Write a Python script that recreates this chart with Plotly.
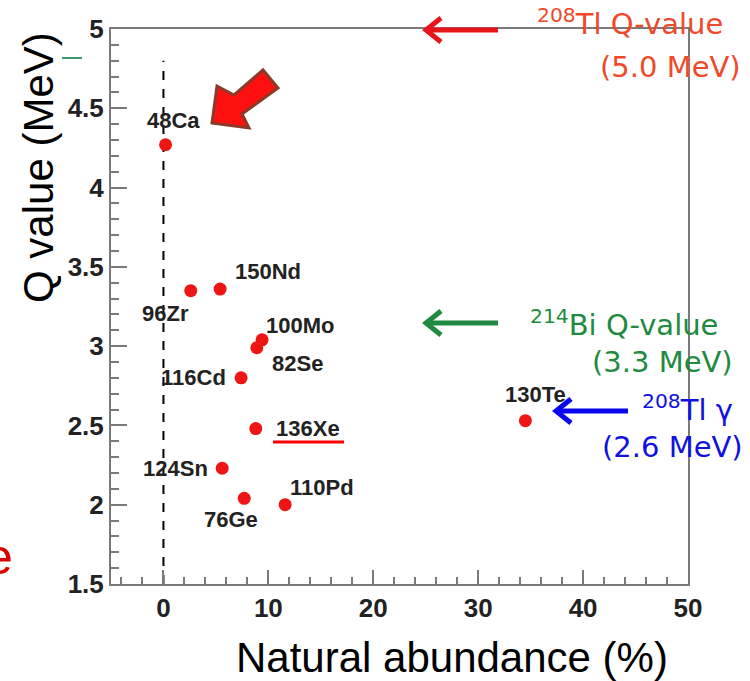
import plotly.graph_objects as go

# Double-beta-decay candidate isotopes: natural abundance (%) vs Q value (MeV)
isotopes = ["48Ca", "96Zr", "150Nd", "100Mo", "82Se", "116Cd",
            "136Xe", "124Sn", "76Ge", "110Pd", "130Te"]
abundance = [0.2, 2.6, 5.4, 9.4, 8.9, 7.4, 8.8, 5.6, 7.7, 11.6, 34.5]
q_value = [4.27, 3.35, 3.36, 3.04, 2.99, 2.80, 2.48, 2.23, 2.04, 2.00, 2.53]

x_ticks = [0, 10, 20, 30, 40, 50]
y_ticks = [1.5, 2, 2.5, 3, 3.5, 4, 4.5, 5]

# label offsets from each point, in pixels (right / down)
label_offset = {
    "48Ca": (8, -24), "96Zr": (-25, 23), "150Nd": (48, -18),
    "100Mo": (38, -14), "82Se": (41, 16), "116Cd": (-48, 0),
    "136Xe": (52, 0), "124Sn": (-47, 0), "110Pd": (37, -17),
    "76Ge": (-13, 21), "130Te": (10, -26),
}

W, H = 750, 681
L, R, T, B = 111, 62, 29, 97
PW, PH = W - L - R, H - T - B


def px(x):
    return (x - L) / PW


def py(y):
    return (H - B - y) / PH


AX_GREY = "#7a7a7a"
LABEL_FONT = dict(family="Liberation Sans, Arial", size=22, color="#222222", weight="bold")
TICK_FONT = dict(family="Liberation Sans, Arial", size=26, color="#222222", weight="bold")
TITLE_FONT = dict(family="Liberation Sans, Arial", size=42, color="#000000")
NOTE_FAMILY = "DejaVu Sans, sans-serif"

fig = go.Figure()

# vertical dashed reference at zero abundance
fig.add_shape(type="line", xref="x", yref="y", x0=0, x1=0, y0=1.5, y1=4.8,
              line=dict(color="black", width=2, dash="dash"), layer="below")

fig.add_trace(go.Scatter(
    x=abundance, y=q_value, mode="markers",
    marker=dict(color="#ee1515", size=13, line=dict(width=0)),
    hoverinfo="skip", showlegend=False,
))

annotations = []
for name, xa, yq in zip(isotopes, abundance, q_value):
    dx, dy = label_offset[name]
    annotations.append(dict(
        x=xa, y=yq, xref="x", yref="y", text=name, showarrow=False,
        xanchor="center", yanchor="middle",
        xshift=dx, yshift=-dy, font=LABEL_FONT,
    ))

# axis titles
annotations.append(dict(x=px(38), y=py(168), xref="paper", yref="paper",
                        text="Q value (MeV)", textangle=-90, showarrow=False,
                        xanchor="center", yanchor="middle", font=TITLE_FONT))
annotations.append(dict(x=px(452), y=py(657), xref="paper", yref="paper",
                        text="Natural abundance (%)", showarrow=False,
                        xanchor="center", yanchor="middle", font=TITLE_FONT))

shapes = []

# background-energy markers on the right
notes = [
    ("#ee4a2a", "<sup>208</sup>Tl Q-value", 725, 22, "(5.0 MeV)", 743, 67,
     "#e8141c", 425, 30, 73),
    ("#1f8a40", "<sup>214</sup>Bi Q-value", 720, 323, "(3.3 MeV)", 735, 362,
     "#1f8a40", 425, 323, 73),
    ("#1010e0", "<sup>208</sup>Tl \u03b3", 735, 408, "(2.6 MeV)", 745, 447,
     "#0808ee", 555, 411, 73),
]
for col, t1, x1, y1, t2, x2, y2, acol, tipx, tipy, alen in notes:
    annotations.append(dict(x=px(x1), y=py(y1), xref="paper", yref="paper",
                            text=t1, showarrow=False, xanchor="right", yanchor="middle",
                            font=dict(family=NOTE_FAMILY, size=29, color=col)))
    annotations.append(dict(x=px(x2), y=py(y2), xref="paper", yref="paper",
                            text=t2, showarrow=False, xanchor="right", yanchor="middle",
                            font=dict(family=NOTE_FAMILY, size=29, color=col)))
    # arrow shaft and open chevron head
    shapes.append(dict(type="line", xref="paper", yref="paper",
                       x0=px(tipx + 3), x1=px(tipx + alen), y0=py(tipy), y1=py(tipy),
                       line=dict(color=acol, width=5)))
    chevron = (f"M {px(tipx + 16):.5f},{py(tipy - 12):.5f} "
               f"L {px(tipx + 1):.5f},{py(tipy):.5f} "
               f"L {px(tipx + 16):.5f},{py(tipy + 12):.5f}")
    shapes.append(dict(type="path", xref="paper", yref="paper", path=chevron,
                       line=dict(color=acol, width=5)))

# stray red letter at the left edge
annotations.append(dict(x=px(15), y=py(557), xref="paper", yref="paper",
                        text="e", showarrow=False, xanchor="right", yanchor="middle",
                        font=dict(family="Liberation Sans, Arial", size=50,
                                  color="#d80000")))

# block arrow pointing at 48Ca
arrow_pts = [(212, 123), (249, 128), (242, 114), (278, 88),
             (263, 70), (234, 95), (217, 86)]
path = "M " + " L ".join(f"{px(a):.5f},{py(b):.5f}" for a, b in arrow_pts) + " Z"
shapes.append(dict(type="path", xref="paper", yref="paper", path=path,
                   fillcolor="#ff1010", line=dict(color="#8b3a2a", width=3)))
# underline of 136Xe
shapes.append(dict(type="line", xref="paper", yref="paper",
                   x0=px(273), x1=px(344), y0=py(442), y1=py(442),
                   line=dict(color="#ff0000", width=3)))
# small green dash
shapes.append(dict(type="line", xref="paper", yref="paper",
                   x0=px(62), x1=px(82), y0=py(58), y1=py(58),
                   line=dict(color="#3a9a6a", width=2)))

fig.update_layout(
    width=W, height=H,
    margin=dict(l=L, r=R, t=T, b=B, pad=0),
    paper_bgcolor="white", plot_bgcolor="white",
    showlegend=False,
    annotations=annotations,
    shapes=fig.layout.shapes + tuple(shapes),
    xaxis=dict(range=[-5, 50], tickvals=x_ticks, ticks="inside", ticklen=14,
               tickwidth=1.5, tickcolor=AX_GREY, showline=True, linecolor=AX_GREY,
               linewidth=2, mirror=True, showgrid=False, zeroline=False,
               tickfont=TICK_FONT,
               minor=dict(dtick=2, tick0=0, ticks="inside", ticklen=7,
                          tickwidth=1.5, tickcolor=AX_GREY, showgrid=False)),
    yaxis=dict(range=[1.5, 5], tickvals=y_ticks, ticktext=[str(v) for v in y_ticks],
               ticks="inside", ticklen=16, tickwidth=1.5, tickcolor=AX_GREY,
               showline=True, linecolor=AX_GREY, linewidth=2, mirror=True,
               showgrid=False, zeroline=False, tickfont=TICK_FONT,
               minor=dict(dtick=0.1, tick0=1.5, ticks="inside", ticklen=8,
                          tickwidth=1.5, tickcolor=AX_GREY, showgrid=False)),
)

fig.write_html("out.html")
